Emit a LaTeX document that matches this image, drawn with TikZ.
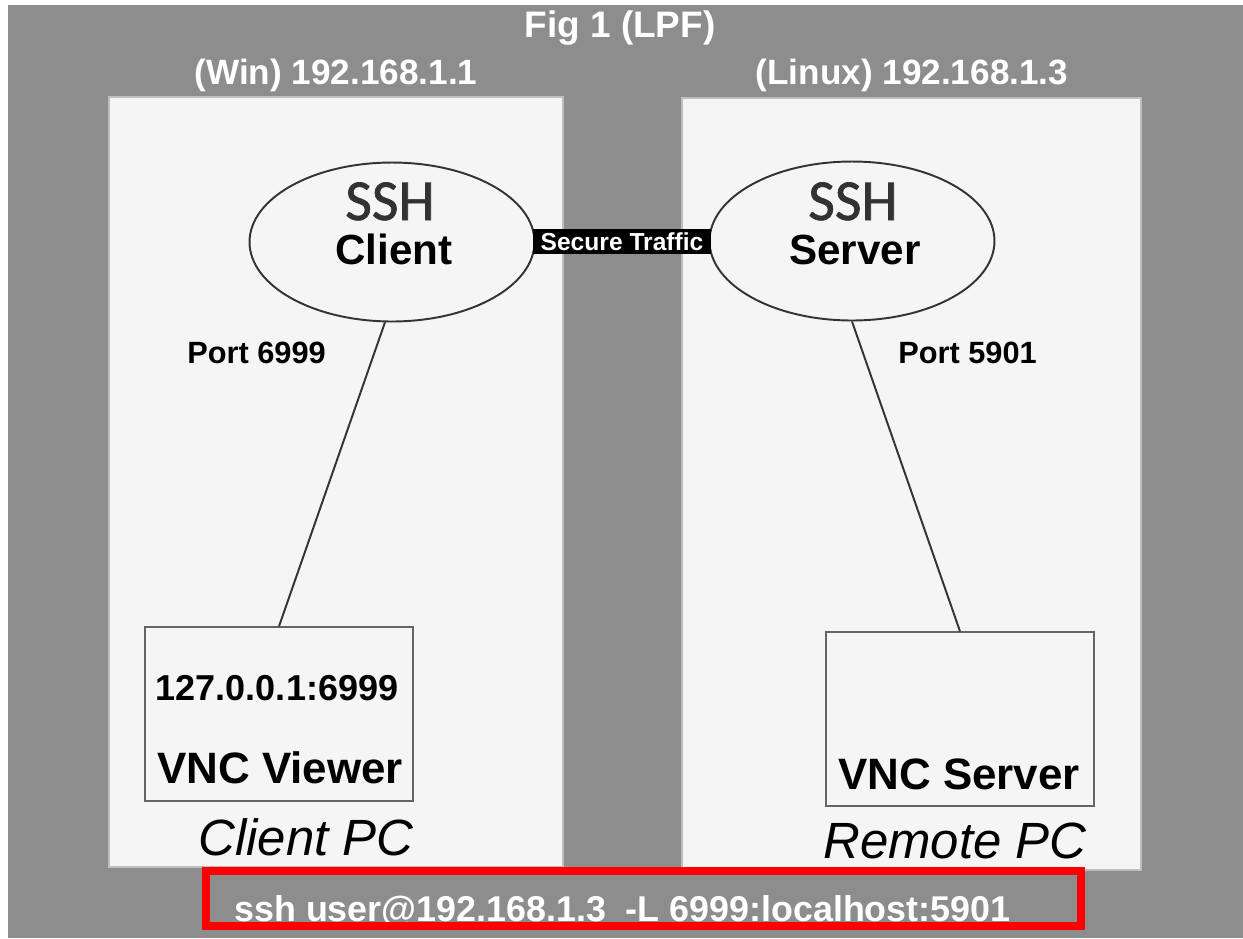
\documentclass[tikz,border=0pt]{standalone}
\usepackage{fontspec}
\setmainfont{Liberation Sans}
\newfontfamily\sshfont[FakeBold=1.2]{Carlito}
\usetikzlibrary{calc,shapes.geometric}
\definecolor{BackClr}{RGB}{141,141,141}
\definecolor{PanelClr}{RGB}{245,245,245}
\definecolor{EdgeClr}{RGB}{190,190,190}
\definecolor{LineClr}{RGB}{51,51,51}
\definecolor{BoxClr}{RGB}{100,100,100}
\definecolor{SshClr}{RGB}{50,50,50}

\begin{document}
\begin{tikzpicture}[x=0.02cm,y=-0.02cm,
  lbl/.style={inner sep=0pt,anchor=base},
  head/.style={lbl,text=white,font=\bfseries\fontsize{20}{24}\selectfont},
  panel/.style={fill=PanelClr,draw=EdgeClr,line width=0.6pt},
  sshell/.style={ellipse,draw=LineClr,line width=1.1pt,minimum width=5.7cm,minimum height=3.18cm,inner sep=0pt},
  sshname/.style={lbl,text=SshClr,font=\sshfont\fontsize{33}{38}\selectfont},
  sshrole/.style={lbl,font=\bfseries\fontsize{24}{28}\selectfont},
  traffic/.style={fill=black,text=white,inner sep=0pt,minimum width=3.55cm,minimum height=0.5cm,font=\bfseries\fontsize{14}{16}\selectfont},
  vncbox/.style={draw=BoxClr,line width=0.8pt,minimum width=5.36cm,minimum height=3.48cm,inner sep=0pt},
  vnctxt/.style={lbl,font=\bfseries\fontsize{25}{30}\selectfont},
  port/.style={lbl,anchor=base west,font=\bfseries\fontsize{17.5}{21}\selectfont},
  pcname/.style={lbl,anchor=base west,font=\itshape\fontsize{29}{34}\selectfont},
  link/.style={draw=LineClr,line width=1.1pt},
  cmdbox/.style={draw=red,line width=4.5pt,minimum width=17.5cm,minimum height=1.1cm,inner sep=0pt}]

\useasboundingbox (0,0) rectangle (1243,938);
\fill[white] (0,0) rectangle (1243,938);
\fill[BackClr] (8,5) rectangle (1243,938);

\draw[panel] (109,97) rectangle (563,867);
\draw[panel] (682,98) rectangle (1141,870);

\node[head,font=\bfseries\fontsize{21}{25}\selectfont] (title) at (620,37) {Fig 1 (LPF)};
\node[head] (winip) at (336,84) {(Win) 192.168.1.1};
\node[head] (linuxip) at (912,84) {(Linux) 192.168.1.3};

\node[sshell] (client) at (392,242) {};
\node[sshell] (server) at (852,241) {};
\node[sshname] (clientssh) at (390,220) {SSH};
\node[sshrole] (clientrole) at (394,264) {Client};
\node[sshname] (serverssh) at (853,220) {SSH};
\node[sshrole] (serverrole) at (855,264) {Server};

\node[traffic] (traffic) at ($(client.east)!.5!(server.west)$) {Secure Traffic};

\node[port] (lport) at (187,363) {Port 6999};
\node[port] (rport) at (898,363) {Port 5901};

\node[vncbox] (viewer) at (279,714) {};
\node[vncbox] (vncsrv) at (960,719) {};
\node[vnctxt,font=\bfseries\fontsize{20.5}{24}\selectfont] (localaddr) at (277,700) {127.0.0.1:6999};
\node[vnctxt] (viewertxt) at (280,783) {VNC Viewer};
\node[vnctxt] (vncsrvtxt) at (959,789) {VNC Server};

\draw[link] (client.265) -- (viewer.north);
\draw[link] (server.south) -- (vncsrv.north);

\node[pcname] (clientpc) at (198,855) {Client PC};
\node[pcname] (remotepc) at (823,858) {Remote PC};

\node[lbl,anchor=base west,text=white,font=\bfseries\fontsize{20.4}{24}\selectfont] (cmd) at (234,921) {ssh user@192.168.1.3\ \ -L 6999:localhost:5901};
\node[cmdbox] (cmdframe) at (643.5,898.5) {};

\end{tikzpicture}
\end{document}
